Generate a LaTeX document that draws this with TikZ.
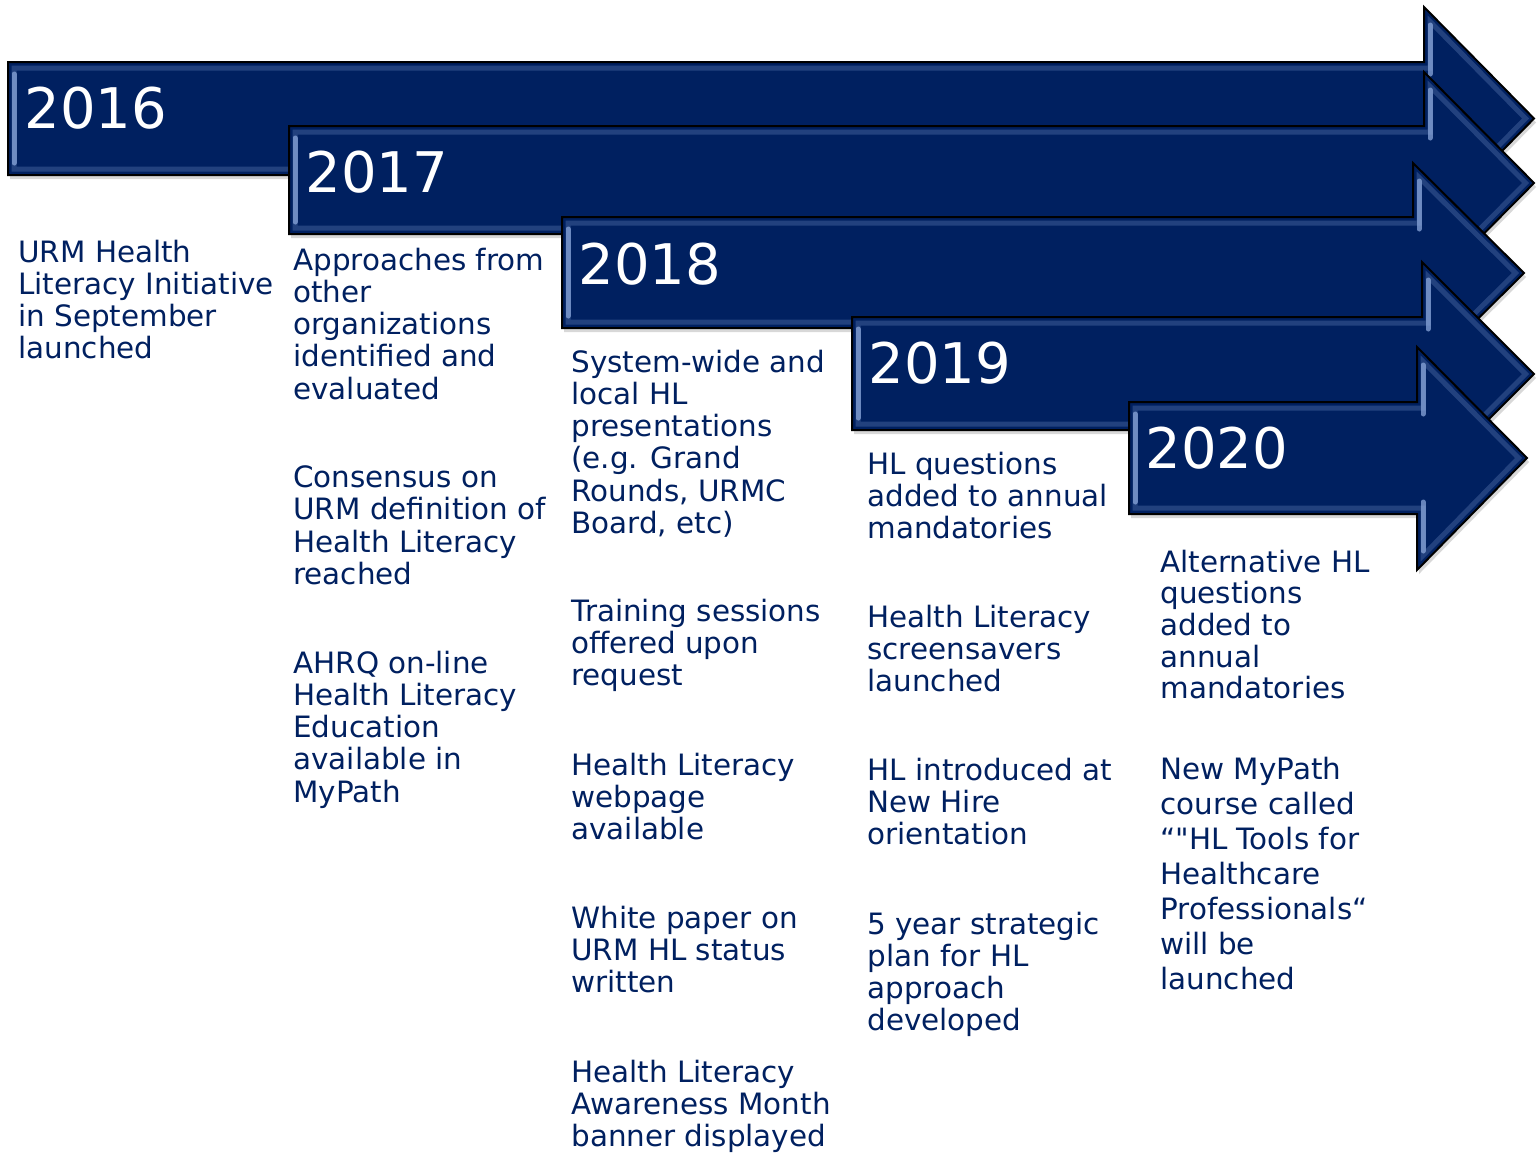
\documentclass[tikz,border=0pt]{standalone}
\usepackage{fontspec}
\setmainfont{DejaVu Sans}[Ligatures=TeXOff]
\usepackage{tikz}
\usetikzlibrary{shadows}
\definecolor{navy}{HTML}{002060}
\definecolor{bevelblue}{HTML}{8AA6DA}
\tikzstyle{arrowbody}=[fill=navy,draw=black,line width=1pt,line join=miter,
  drop shadow={shadow xshift=1pt,shadow yshift=-2pt,opacity=0.3}]
\tikzstyle{bevel}=[draw=bevelblue,line width=2.5pt,line join=miter,opacity=0.25]
\tikzstyle{bevelhi}=[draw=bevelblue,line width=2.5pt,line cap=round,opacity=0.75]
\tikzstyle{year}=[anchor=base west,inner sep=0pt,text=white,font=\fontsize{28}{30}\selectfont]
\tikzstyle{texto}=[anchor=north west,inner sep=0pt,align=left,text=navy,
  font=\fontsize{14.7}{16.1}\selectfont,execute at begin node=\strut]

\begin{document}
\begin{tikzpicture}[x=0.5pt,y=-0.5pt]
    \useasboundingbox [fill=white] (0,0) rectangle (1540,1153);
    % year arrows, back to front
    \draw [arrowbody] (8,62) -- (1424,62) -- (1424,7) -- (1534,118.5) -- (1424,230) -- (1424,175) -- (8,175) -- cycle;
    \draw [bevel] (14,68) -- (1430,68) -- (1430,21.5) -- (1525.5,118.5) -- (1430,215.5) -- (1430,169) -- (14,169) -- cycle;
    \draw [bevelhi] (14,74) -- (14,163);
    \draw [bevelhi] (1430,25) -- (1430,74);
    \node [year] (y16) at (24,128) {2016};
    \draw [arrowbody] (289,126) -- (1424,126) -- (1424,72) -- (1534,183) -- (1424,294) -- (1424,234) -- (289,234) -- cycle;
    \draw [bevel] (295,132) -- (1430,132) -- (1430,86.5) -- (1525.5,183) -- (1430,279.5) -- (1430,228) -- (295,228) -- cycle;
    \draw [bevelhi] (295,138) -- (295,222);
    \draw [bevelhi] (1430,90) -- (1430,138);
    \node [year] (y17) at (305,192) {2017};
    \draw [arrowbody] (562,217) -- (1413,217) -- (1413,163) -- (1524,273) -- (1413,383) -- (1413,328) -- (562,328) -- cycle;
    \draw [bevelhi] (568,229) -- (568,316);
    \draw [bevel] (568,223) -- (1419,223) -- (1419,177.5) -- (1515.5,273) -- (1419,368.5) -- (1419,322) -- (568,322) -- cycle;
    \draw [bevelhi] (1419,181) -- (1419,229);
    \node [year] (y18) at (578,284) {2018};
    \draw [arrowbody] (852,317) -- (1422,317) -- (1422,262) -- (1534,374) -- (1422,486) -- (1422,430) -- (852,430) -- cycle;
    \draw [bevel] (858,323) -- (1428,323) -- (1428,276.5) -- (1525.5,374) -- (1428,471.5) -- (1428,424) -- (858,424) -- cycle;
    \draw [bevelhi] (858,329) -- (858,418);
    \draw [bevelhi] (1428,280) -- (1428,329);
    \node [year] (y19) at (868,383) {2019};
    \draw [arrowbody] (1129,402) -- (1417,402) -- (1417,347) -- (1527,458) -- (1417,570) -- (1417,514) -- (1129,514) -- cycle;
    \draw [bevel] (1135,408) -- (1423,408) -- (1423,361.5) -- (1518.5,458) -- (1423,555.5) -- (1423,508) -- (1135,508) -- cycle;
    \draw [bevelhi] (1135,414) -- (1135,502);
    \draw [bevelhi] (1423,365) -- (1423,414);
    \draw [bevelhi] (1423,502) -- (1423,551);
    \node [year] (y20) at (1145,468) {2020};

    % 2016
    \node [texto] (urm) at (18,239.5) {URM Health\\Literacy Initiative\\in September\\launched};
    % 2017
    \node [texto] (appr) at (293,247.5) {Approaches from\\other\\organizations\\identified and\\evaluated};
    \node [texto] (cons) at (293,465.5) {Consensus on\\URM definition of\\Health Literacy\\reached};
    \node [texto] (ahrq) at (293,650.5) {AHRQ on-line\\Health Literacy\\Education\\available in\\MyPath};
    % 2018
    \node [texto] (syst) at (571,349.5) {System-wide and\\local HL\\presentations\\(e.g. Grand\\Rounds, URMC\\Board, etc)};
    \node [texto] (train) at (571,598.5) {Training sessions\\offered upon\\request};
    \node [texto] (web) at (571,752.5) {Health Literacy\\webpage\\available};
    \node [texto] (paper) at (571,905.5) {White paper on\\URM HL status\\written};
    \node [texto] (month) at (571,1059.5) {Health Literacy\\Awareness Month\\banner displayed};
    % 2019
    \node [texto] (quest) at (867,451.5) {HL questions\\added to annual\\mandatories};
    \node [texto] (saver) at (867,604.5) {Health Literacy\\screensavers\\launched};
    \node [texto] (hire) at (867,757.5) {HL introduced at\\New Hire\\orientation};
    \node [texto] (plan) at (867,911.5) {5 year strategic\\plan for HL\\approach\\developed};
    % 2020
    \node [texto,font=\fontsize{14.7}{15.8}\selectfont] (alt) at (1160,549.5) {Alternative HL\\questions\\added to\\annual\\mandatories};
    \node [texto,font=\fontsize{14.7}{17.5}\selectfont] (course) at (1160,756.5) {New MyPath\\course called\\“"HL Tools for\\Healthcare\\Professionals“\\will be\\launched};
\end{tikzpicture}
\end{document}
